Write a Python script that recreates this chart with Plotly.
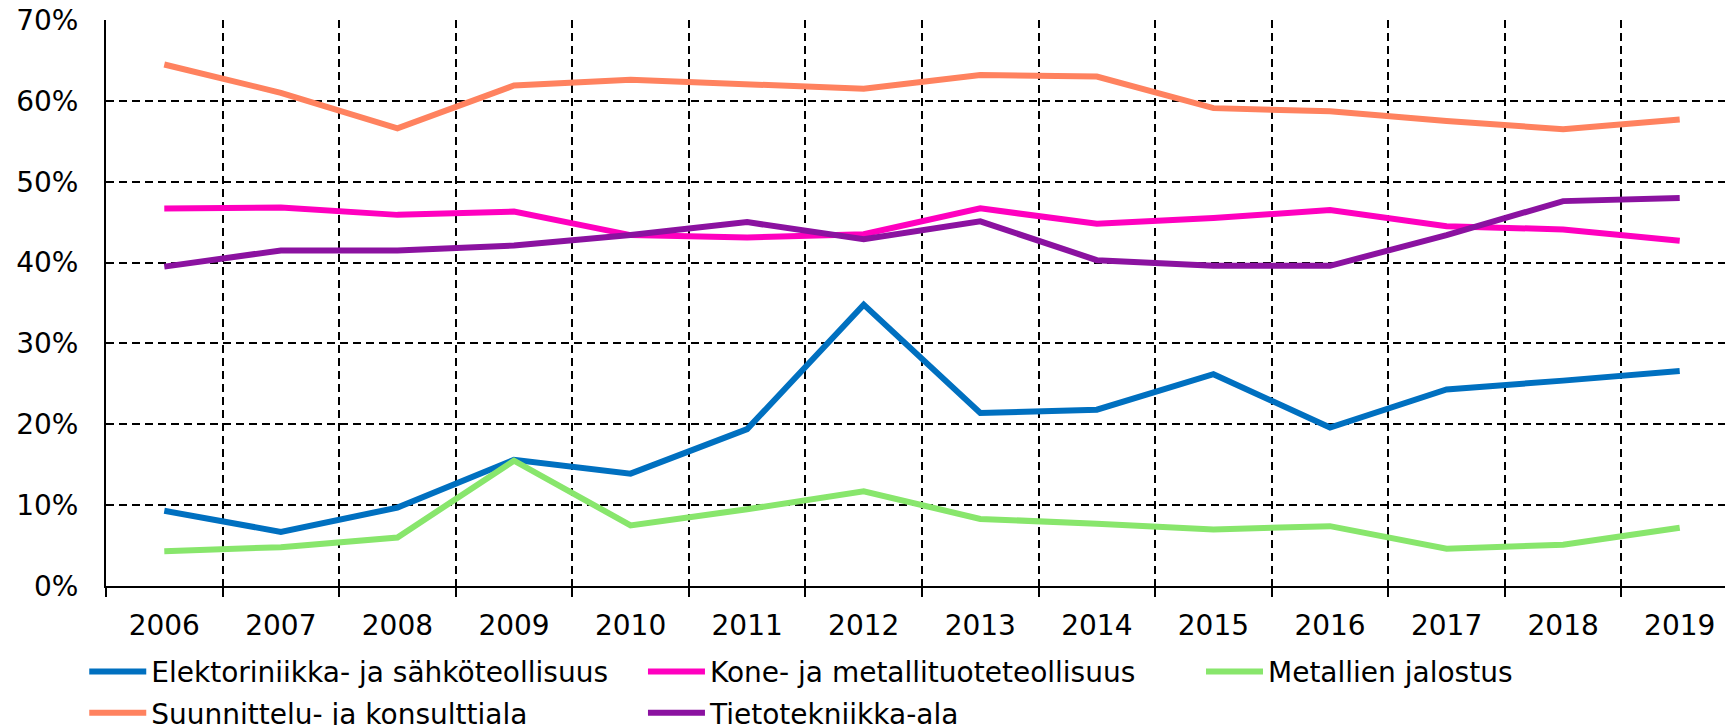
import plotly.graph_objects as go

years = [str(y) for y in range(2006, 2020)]

elektroniikka = [9.3, 6.7, 9.7, 15.6, 13.9, 19.4, 34.8, 21.4, 21.8, 26.2, 19.6, 24.3, 25.4, 26.6]
kone = [46.7, 46.8, 45.9, 46.3, 43.4, 43.1, 43.5, 46.7, 44.8, 45.5, 46.5, 44.5, 44.1, 42.7]
metallien = [4.3, 4.8, 6.0, 15.5, 7.5, 9.5, 11.7, 8.3, 7.7, 7.0, 7.4, 4.6, 5.1, 7.2]
suunnittelu = [64.5, 61.0, 56.6, 61.9, 62.6, 62.1, 61.5, 63.2, 63.0, 59.1, 58.7, 57.5, 56.5, 57.7]
tieto = [39.5, 41.5, 41.5, 42.1, 43.4, 45.0, 42.9, 45.1, 40.3, 39.6, 39.6, 43.4, 47.6, 48.0]

# name, values, colour, legend column
series = [
    ("Elektoriniikka- ja sähköteollisuus", elektroniikka, "#0070C0", "legend"),
    ("Kone- ja metallituoteteollisuus", kone, "#FF00BF", "legend2"),
    ("Metallien jalostus", metallien, "#88E66C", "legend3"),
    ("Suunnittelu- ja konsulttiala", suunnittelu, "#FF825F", "legend"),
    ("Tietotekniikka-ala", tieto, "#8B12A0", "legend2"),
]

FONT = "DejaVu Sans, Verdana, sans-serif"

fig = go.Figure()
for name, vals, color, leg in series:
    fig.add_trace(go.Scatter(
        x=years, y=vals, name=name, mode="lines",
        legend=leg, legendgroup=name,
        line=dict(color=color, width=6),
    ))


def legend_col(x):
    return dict(
        orientation="v", xref="container", x=x, xanchor="left",
        yref="container", y=0.119, yanchor="top",
        font=dict(size=28), itemwidth=57,
        traceorder="grouped", tracegroupgap=2,
        bgcolor="rgba(0,0,0,0)",
    )


fig.update_layout(
    width=1733, height=725,
    plot_bgcolor="white", paper_bgcolor="white",
    font=dict(family=FONT, size=28, color="black"),
    margin=dict(t=12, b=147, l=98, r=3, autoexpand=False),
    showlegend=True,
    legend=legend_col(0.044),
    legend2=legend_col(0.3664),
    legend3=legend_col(0.6884),
)
fig.update_xaxes(
    type="category", range=[-0.5, 13.5],
    tickson="boundaries", ticks="outside", ticklen=9, tickwidth=2, tickcolor="black",
    showgrid=True, gridcolor="black", gridwidth=2, griddash="8px,5px",
    showline=True, linecolor="black", linewidth=2,
    ticklabelstandoff=13, automargin=False, ticklabeloverflow="allow",
)
fig.update_yaxes(
    range=[0, 70], dtick=10, ticksuffix="%",
    showgrid=True, gridcolor="black", gridwidth=2, griddash="8px,5px",
    showline=True, linecolor="black", linewidth=2,
    zeroline=False, ticklabelstandoff=20, automargin=False,
    ticklabeloverflow="allow",
)

fig.write_html("out.html")
